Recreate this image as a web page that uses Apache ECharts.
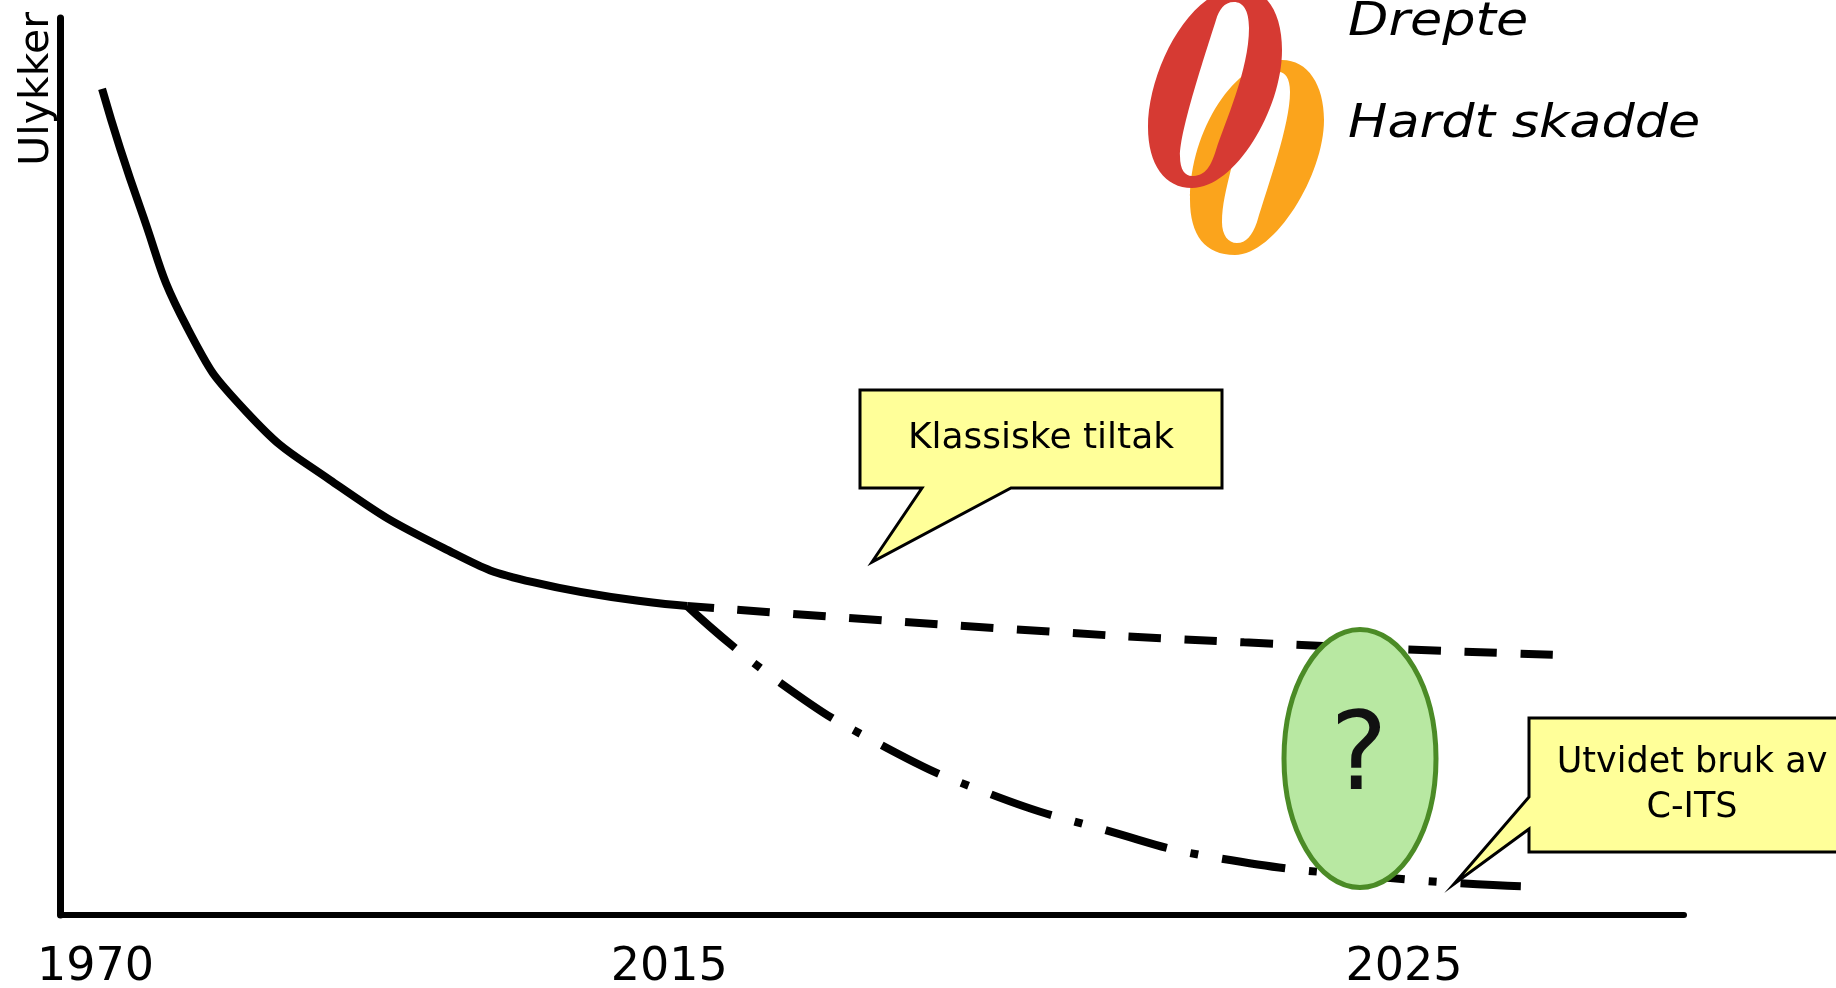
<!DOCTYPE html>
<html>
<head>
<meta charset="utf-8">
<style>
html, body { margin: 0; padding: 0; background: #fff; overflow: hidden; }
#main { width: 1836px; height: 988px; }
</style>
<script src="https://cdn.jsdelivr.net/npm/echarts@6/dist/echarts.min.js"></script>
</head>
<body>
<div id="main"></div>
<script>
// schematic axes, both run 0-1000, the picture has no real scale
var tickPositions = [21.6, 375, 827.5];
var tickLabels = ['1970', '2015', '2025'];

var historic = [[25.6, 921], [49, 789], [78, 655], [115, 560], [166, 485], [236, 409], [291, 371], [386, 344.5]];
var classicMeasures = [[386, 344.5], [575, 320], [729, 304], [920, 290]];
var extendedCits = [[386, 344.5], [441, 262], [504, 191], [571, 136], [641, 96], [713, 63.5], [821, 41], [899.5, 32]];

var font = '"DejaVu Sans", sans-serif';

// logo rings, outer outline and hole wind opposite ways so the hole stays open
var redRing = 'M1192 188 C1165 188 1148 165 1148 127 C1148 70 1190 -12 1240 -12 C1268 -12 1282 15 1282 50 C1282 110 1235 188 1192 188 Z ' +
    'M1192 176 C1203 176 1210 170 1216 150 C1225 122 1249 70 1249 28 C1249 10 1243 2 1234 2 C1224 2 1219 10 1216 20 C1205 55 1180 130 1180 156 C1180 170 1185 176 1192 176 Z';
var orangeRing = 'M1235 255 C1205 255 1190 235 1190 200 C1190 130 1235 60 1282 60 C1308 60 1324 85 1324 120 C1324 175 1275 255 1235 255 Z ' +
    'M1237 243 C1246 243 1252 236 1257 222 C1268 185 1290 125 1290 92 C1290 78 1285 72 1279 72 C1260 72 1240 120 1232 165 C1226 190 1222 205 1222 222 C1222 235 1228 243 1237 243 Z';

function ringSeries(pathData, color, x, y, w, h) {
    return {
        type: 'custom',
        coordinateSystem: 'none',
        silent: true,
        z: 5,
        data: [0],
        renderItem: function () {
            return {
                type: 'path',
                shape: { pathData: pathData, x: x, y: y, width: w, height: h, layout: 'cover' },
                style: { fill: color }
            };
        }
    };
}

function lineSeries(data, dash, offset) {
    return {
        type: 'line',
        data: data,
        smooth: 0.5,
        showSymbol: false,
        silent: true,
        z: 3,
        lineStyle: { color: '#000', width: 8, type: dash, dashOffset: offset, cap: 'butt' }
    };
}

var myChart = echarts.init(document.getElementById('main'));

var option = {
    animation: false,
    backgroundColor: '#fff',
    grid: { left: 60.5, right: 152, top: 18, bottom: 73, outerBoundsMode: 'none' },
    xAxis: {
        type: 'value',
        min: 0,
        max: 1000,
        splitLine: { show: false },
        axisTick: { show: false },
        axisLine: { onZero: false, lineStyle: { color: '#000', width: 6 } },
        axisLabel: {
            customValues: tickPositions,
            formatter: function (v) {
                return tickLabels[tickPositions.indexOf(v)];
            },
            margin: 30,
            color: '#000',
            fontFamily: font,
            fontSize: 46,
            hideOverlap: false
        }
    },
    yAxis: {
        type: 'value',
        min: 0,
        max: 1000,
        name: 'Ulykker',
        nameLocation: 'end',
        nameRotate: 90,
        nameGap: 6,
        nameTextStyle: { color: '#000', fontFamily: font, fontSize: 41, align: 'right', verticalAlign: 'bottom', padding: [0, 0, 3, 0] },
        splitLine: { show: false },
        axisTick: { show: false },
        axisLabel: { show: false },
        axisLine: { onZero: false, lineStyle: { color: '#000', width: 7 } }
    },
    series: [
        lineSeries(historic, 'solid', 0),
        lineSeries(classicMeasures, [32.5, 23.5], 5.5),
        lineSeries(extendedCits, [64, 24, 8, 24], 0),
        ringSeries(orangeRing, '#FBA41C', 1190, 60, 134, 195),
        ringSeries(redRing, '#D63A33', 1148, -12, 134, 200)
    ],
    graphic: [
        {
            type: 'ellipse', z: 20, silent: true,
            shape: { cx: 1360, cy: 758.5, rx: 76, ry: 129 },
            style: { fill: '#B8E8A2', stroke: '#4B8B26', lineWidth: 5 }
        },
        {
            type: 'text', z: 21, silent: true, x: 1359, y: 761,
            style: { text: '?', fill: '#111', font: '108px ' + font, textAlign: 'center', textVerticalAlign: 'middle' }
        },
        {
            type: 'polygon', z: 20, silent: true,
            shape: { points: [[860, 390], [1222, 390], [1222, 488], [1011, 488], [872, 562], [922, 488], [860, 488]] },
            style: { fill: '#FFFF99', stroke: '#000', lineWidth: 3 }
        },
        {
            type: 'text', z: 21, silent: true, x: 1041, y: 439,
            style: { text: 'Klassiske tiltak', fill: '#000', font: '36px ' + font, textAlign: 'center', textVerticalAlign: 'middle' }
        },
        {
            type: 'polygon', z: 20, silent: true,
            shape: { points: [[1529, 718], [1850, 718], [1850, 852], [1529, 852], [1529, 829], [1454, 884], [1529, 797]] },
            style: { fill: '#FFFF99', stroke: '#000', lineWidth: 3 }
        },
        {
            type: 'text', z: 21, silent: true, x: 1692, y: 762.5,
            style: { text: 'Utvidet bruk av', fill: '#000', font: '35px ' + font, textAlign: 'center', textVerticalAlign: 'middle' }
        },
        {
            type: 'text', z: 21, silent: true, x: 1692, y: 807.5,
            style: { text: 'C-ITS', fill: '#000', font: '35px ' + font, textAlign: 'center', textVerticalAlign: 'middle' }
        },
        {
            type: 'text', z: 21, silent: true, x: 1348, y: 23, scaleX: 1.14,
            style: { text: 'Drepte', fill: '#000', font: 'italic 46px ' + font, textAlign: 'left', textVerticalAlign: 'middle' }
        },
        {
            type: 'text', z: 21, silent: true, x: 1348, y: 125, scaleX: 1.14,
            style: { text: 'Hardt skadde', fill: '#000', font: 'italic 46px ' + font, textAlign: 'left', textVerticalAlign: 'middle' }
        }
    ]
};

myChart.setOption(option);
</script>
</body>
</html>
